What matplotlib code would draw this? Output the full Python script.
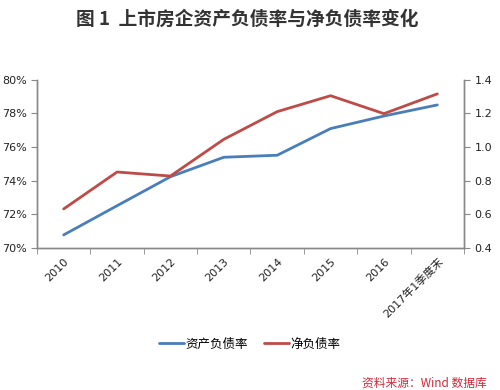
import matplotlib
matplotlib.use("Agg")
import matplotlib.pyplot as plt
import numpy as np

plt.rcParams['font.family'] = ['DejaVu Sans', 'Noto Sans CJK SC']

categories = ['2010', '2011', '2012', '2013', '2014', '2015', '2016', '2017年1季度末']
asset_liability = [70.76, 72.5, 74.23, 75.39, 75.51, 77.10, 77.85, 78.51]
net_debt = [0.631, 0.851, 0.827, 1.046, 1.211, 1.306, 1.199, 1.317]

blue = '#4A7EBB'
red = '#BE4B48'
gray = '#888888'

fig = plt.figure(figsize=(5.0, 3.9), dpi=100)
ax = fig.add_axes([0.074, 0.365, 0.854, 0.43])
ax2 = ax.twinx()

x = np.arange(len(categories))
l1, = ax.plot(x, asset_liability, color=blue, lw=2.0, solid_capstyle='round')
l2, = ax2.plot(x, net_debt, color=red, lw=2.0, solid_capstyle='round')

ax.set_xlim(-0.5, len(categories) - 0.5)
ax.set_ylim(70, 80)
ax.set_yticks(np.arange(70, 81, 2))
ax.set_yticklabels([f'{v}%' for v in range(70, 81, 2)])
ax2.set_ylim(0.4, 1.4)
ax2.set_yticks(np.arange(0.4, 1.41, 0.2))
ax2.set_yticklabels([f'{v:.1f}' for v in np.arange(0.4, 1.41, 0.2)])

ax.set_xticks(x)
ax.set_xticklabels(categories, rotation=45, ha='right', rotation_mode='anchor',
                   family=['DejaVu Sans', 'Noto Sans CJK SC'])
ax.tick_params(axis='x', which='major', length=0, pad=6)
ax.set_xticks(np.arange(-0.5, len(categories) + 0.5, 1), minor=True)
ax.tick_params(axis='x', which='minor', length=4, color=gray, direction='out')

for a in (ax, ax2):
    a.tick_params(axis='y', length=4, color=gray, labelsize=8, labelcolor='#222222')
    a.tick_params(axis='x', labelsize=8, labelcolor='#222222')
    a.spines['top'].set_visible(False)
    for s in ('left', 'right', 'bottom'):
        a.spines[s].set_color(gray)
        a.spines[s].set_linewidth(1.0)

fig.text(0.495, 0.950, '图 1  上市房企资产负债率与净负债率变化', ha='center', va='center',
         fontsize=13.5, fontweight='bold', family=['Noto Sans CJK SC'], color='#333333')

fig.legend([l1, l2], ['资产负债率', '净负债率'], loc='center', bbox_to_anchor=(0.5, 0.118),
           ncol=2, frameon=False, handlelength=2.0, handletextpad=0.1,
           columnspacing=1.3, prop={'family': ['Noto Sans CJK SC'], 'size': 9})

fig.text(0.974, 0.018, '资料来源：Wind 数据库', ha='right', va='center',
         style='italic', color='#D0283A', family=['Noto Sans CJK SC', 'DejaVu Sans'], fontsize=8.5)

fig.savefig('out.png', dpi=100)
